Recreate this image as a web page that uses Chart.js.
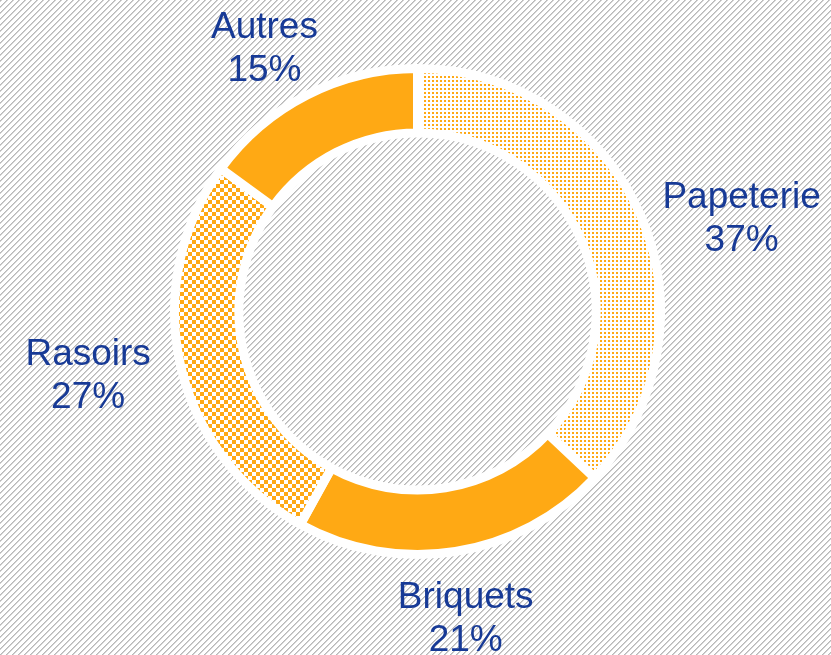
<!DOCTYPE html>
<html>
<head>
<meta charset="utf-8">
<script src="https://cdn.jsdelivr.net/npm/chart.js@4"></script>
<style>
  html, body { margin: 0; padding: 0; background: #fff; }
  #wrap { width: 831px; height: 655px; position: relative; }
</style>
</head>
<body>
<div id="wrap"><canvas id="mycanvas"></canvas></div>
<script>
var categories = ['Papeterie', 'Briquets', 'Rasoirs', 'Autres'];
var shares = [37, 21, 27, 15];
var shareLabels = ['37%', '21%', '27%', '15%'];

var orange = '#ffa914';
var textBlue = '#173a96';

// small tiles used as fill patterns
var makeTile = function(size, paint) {
    var c = document.createElement('canvas');
    c.width = size; c.height = size;
    var g = c.getContext('2d');
    paint(g);
    return c;
};

var hatchTile = makeTile(6, function(g) {
    g.fillStyle = '#fff';
    g.fillRect(0, 0, 6, 6);
    for (var x = 0; x < 6; x++) {
        for (var y = 0; y < 6; y++) {
            var k = (x + y) % 6;
            if (k === 0) { g.fillStyle = '#b8b8b8'; g.fillRect(x, y, 1, 1); }
            if (k === 1) { g.fillStyle = '#d2d2d2'; g.fillRect(x, y, 1, 1); }
        }
    }
});

var dotTile = makeTile(4, function(g) {
    g.fillStyle = '#fff';
    g.fillRect(0, 0, 4, 4);
    g.fillStyle = orange;
    g.fillRect(0, 0, 2, 2);
});

var checkTile = makeTile(8, function(g) {
    g.fillStyle = '#fff';
    g.fillRect(0, 0, 8, 8);
    g.fillStyle = orange;
    g.fillRect(0, 0, 4, 4);
    g.fillRect(4, 4, 4, 4);
});

var ctx = document.getElementById('mycanvas').getContext('2d');
var fills = [
    ctx.createPattern(dotTile, 'repeat'),
    orange,
    ctx.createPattern(checkTile, 'repeat'),
    orange
];

// hatched background behind everything
var hatchBackground = {
    id: 'hatchBackground',
    beforeDraw: function(chart) {
        var c = chart.ctx;
        c.save();
        c.fillStyle = c.createPattern(hatchTile, 'repeat');
        c.fillRect(0, 0, chart.width, chart.height);
        c.restore();
    }
};

// outside labels: name on first line, share on second
var labelNudge = [[7, -6], [0, 5], [2, 9], [-3, -9]];
var outsideLabels = {
    id: 'outsideLabels',
    afterDatasetsDraw: function(chart) {
        var c = chart.ctx;
        var meta = chart.getDatasetMeta(0);
        c.save();
        c.font = '37px "Liberation Sans", Arial, sans-serif';
        c.fillStyle = textBlue;
        c.textAlign = 'center';
        c.textBaseline = 'alphabetic';
        meta.data.forEach(function(arc, i) {
            var p = arc.getProps(['x', 'y', 'startAngle', 'endAngle', 'outerRadius'], true);
            var mid = (p.startAngle + p.endAngle) / 2 + labelNudge[i][0] * Math.PI / 180;
            var hw = Math.max(c.measureText(categories[i]).width, c.measureText(shareLabels[i]).width) / 2;
            var hh = 35;
            var dx = Math.cos(mid), dy = Math.sin(mid);
            var d = p.outerRadius + 15 + Math.abs(dx) * hw + Math.abs(dy) * hh + labelNudge[i][1];
            var cx = p.x + dx * d, cy = p.y + dy * d;
            c.fillText(categories[i], cx, cy - 8);
            c.fillText(shareLabels[i], cx, cy + 35);
        });
        c.restore();
    }
};

var chart = new Chart(ctx, {
    type: 'doughnut',
    data: {
        labels: categories,
        datasets: [{
            data: shares,
            backgroundColor: fills,
            borderColor: '#ffffff',
            borderWidth: 9,
            hoverOffset: 0
        }]
    },
    options: {
        responsive: true,
        maintainAspectRatio: false,
        animation: false,
        cutout: '73.5%',
        layout: { padding: { top: 64, bottom: 96, left: 170, right: 166 } },
        plugins: {
            legend: { display: false },
            tooltip: { enabled: false }
        }
    },
    plugins: [hatchBackground, outsideLabels]
});
</script>
</body>
</html>
